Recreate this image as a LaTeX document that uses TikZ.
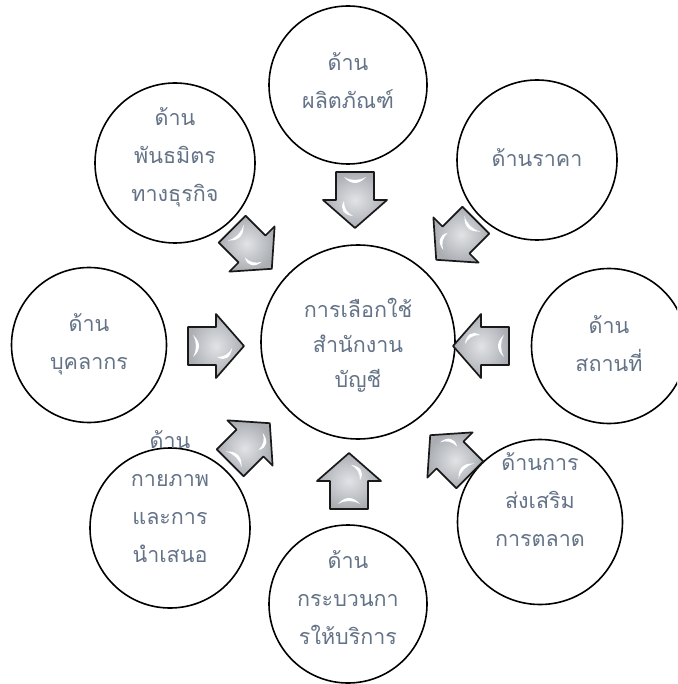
\documentclass[tikz,border=0pt]{standalone}
\usepackage{fontspec}
\newfontfamily\thaifont[Script=Thai]{Loma}
\definecolor{txt}{RGB}{100,115,135}
\definecolor{arin}{RGB}{225,227,230}
\definecolor{arout}{RGB}{170,173,178}
\tikzset{
  circ/.style={circle, draw=black, line width=1.6pt, fill=white, inner sep=0pt},
  lbl/.style={text=txt, align=center, inner sep=0pt, font=\thaifont\fontsize{21.5}{38}\selectfont},
  clbl/.style={lbl, font=\thaifont\fontsize{21.5}{35}\selectfont},
  blockarrow/.pic={
    \path[draw=black!90, line width=1.7pt, line join=round, inner color=arin, outer color=arout]
      (-28,-19) -- (0,-19) -- (0,-32) -- (28,0) -- (0,32) -- (0,19) -- (-28,19) -- cycle;
    \fill[white] (-23,-11) .. controls (-15,-4) and (-15,4) .. (-23,11)
                 .. controls (-19,4) and (-19,-4) .. (-23,-11);
    \fill[white] (1,11) .. controls (8,11) and (13,8) .. (16,2)
                 .. controls (15,11) and (9,16) .. (1,11);
  }
}
\begin{document}
\begin{tikzpicture}[x=1pt,y=-1pt]
\useasboundingbox (0,0) rectangle (677,684);
\clip (0,0) rectangle (677,684);
% circles
\node[circ, minimum size=194pt] (center) at (358,342) {};
\node[circ, minimum size=158pt] (ctop) at (348,85) {};
\node[circ, minimum size=160pt] (ctl) at (175,163) {};
\node[circ, minimum size=160pt] (ctr) at (537,160) {};
\node[circ, minimum size=155pt] (cleft) at (89,345) {};
\node[circ, minimum size=155pt] (cright) at (609,346) {};
\node[circ, minimum size=160pt] (cbl) at (170,528) {};
\node[circ, minimum size=165pt] (cbr) at (540,522) {};
\node[circ, minimum size=158pt] (cbot) at (348,604) {};
% texts
\node[clbl] (tcenter) at (358,345) {การเลือกใช้\\สำนักงาน\\บัญชี};
\node[lbl] (ttop) at (348,81) {ด้าน\\ผลิตภัณฑ์};
\node[lbl] (ttl) at (175,157) {ด้าน\\พันธมิตร\\ทางธุรกิจ};
\node[lbl] (ttr) at (537,158) {ด้านราคา};
\node[lbl] (tleft) at (89,344) {ด้าน\\บุคลากร};
\node[lbl] (tright) at (609,344) {ด้าน\\สถานที่};
\node[lbl] (tbl) at (170,497) {ด้าน\\กายภาพ\\และการ\\นำเสนอ};
\node[lbl] (tbr) at (540,500) {ด้านการ\\ส่งเสริม\\การตลาด};
\node[lbl] (tbot) at (348,598) {ด้าน\\กระบวนกา\\รให้บริการ};
% block arrows
\pic[rotate=-90] (atop) at (355,200) {blockarrow};
\pic[rotate=-135] (atr) at (456,240) {blockarrow};
\pic[rotate=-45] (atl) at (252,249) {blockarrow};
\pic[rotate=0] (aleft) at (216,346) {blockarrow};
\pic[rotate=180] (aright) at (481,346) {blockarrow};
\pic[rotate=90] (abot) at (349,481) {blockarrow};
\pic[rotate=135] (abr) at (450,455) {blockarrow};
\pic[rotate=45] (abl) at (250,443) {blockarrow};
\end{tikzpicture}
\end{document}
